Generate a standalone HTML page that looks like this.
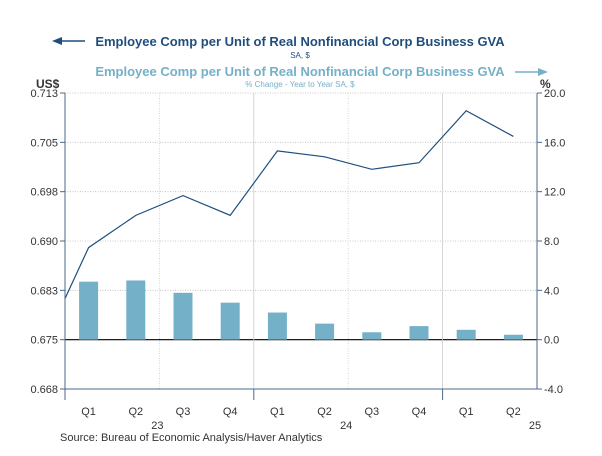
<!DOCTYPE html>
<html><head><meta charset="utf-8"><style>
body{margin:0;background:#fff;font-family:"Liberation Sans",sans-serif}
svg text{font-family:"Liberation Sans",sans-serif}
</style></head><body>
<svg width="602" height="451" viewBox="0 0 602 451">
<g>
<line x1="57" y1="41" x2="85" y2="41" stroke="#1f4e7e" stroke-width="1.5"/>
<polygon points="52,41 62,37 62,45" fill="#1f4e7e"/>
<text x="300" y="46" text-anchor="middle" font-size="13" font-weight="bold" fill="#1f4e7e">Employee Comp per Unit of Real Nonfinancial Corp Business GVA</text>
<text x="300" y="58" text-anchor="middle" font-size="8" fill="#1f4e7e">SA, $</text>
<text x="300" y="76" text-anchor="middle" font-size="13" font-weight="bold" fill="#74b0c8">Employee Comp per Unit of Real Nonfinancial Corp Business GVA</text>
<text x="300" y="87" text-anchor="middle" font-size="8" fill="#74b0c8">% Change - Year to Year    SA, $</text>
<line x1="515" y1="72" x2="540" y2="72" stroke="#74b0c8" stroke-width="1.5"/>
<polygon points="548,72 538,68 538,76" fill="#74b0c8"/>
</g>
<text x="36" y="88" font-size="12" font-weight="bold" fill="#333">US$</text>
<text x="540" y="88" font-size="12" font-weight="bold" fill="#333">%</text>
<g id="grid"></g>
<g id="bars"></g>
<g id="line"></g>
<g id="axes"></g>
<text x="60" y="441" font-size="11" fill="#333">Source:  Bureau of Economic Analysis/Haver Analytics</text>
</svg>
<script>
const categories=["Q1","Q2","Q3","Q4","Q1","Q2","Q3","Q4","Q1","Q2"];
const years=["23","24","25"];
const levelPrev=0.6735;
const levelValues=[0.6890,0.6939,0.6969,0.6939,0.7037,0.7028,0.7009,0.7019,0.7098,0.7059];
const changeValues=[4.7,4.8,3.8,3.0,2.2,1.3,0.6,1.1,0.8,0.4];
const leftTicks=["0.713","0.705","0.698","0.690","0.683","0.675","0.668"];
const rightTicks=[20,16,12,8,4,0,-4];
const NS="http://www.w3.org/2000/svg";
const X0=65,X1=537,Y0=93,Y1=389;
const slot=(X1-X0)/categories.length;
const xq=i=>X0+slot*(i+0.5);
const yR=v=>Y1-(v+4)/24*(Y1-Y0);
const yL=v=>yR((v-0.675)/0.001875);
function mk(t,a,p){const e=document.createElementNS(NS,t);for(const k in a)e.setAttribute(k,a[k]);p.appendChild(e);return e;}
const grid=document.getElementById('grid'),axes=document.getElementById('axes');
rightTicks.forEach((v,i)=>{const y=yR(v);
 const g=mk('line',{x1:X0,x2:X1,y1:y,y2:y,stroke:v===0?'#000':'#bbb','stroke-width':v===0?1.2:0.8,'stroke-dasharray':v===0?'':'1,1.5'},grid);
 
 
 mk('line',{x1:X0-5,x2:X0,y1:y,y2:y,stroke:'#4a6a8a'},axes);
 mk('line',{x1:X1,x2:X1+5,y1:y,y2:y,stroke:'#4a6a8a'},axes);
 const tl=mk('text',{x:X0-7,y:y+4,'text-anchor':'end','font-size':11,fill:'#333'},axes);tl.textContent=leftTicks[i];
 
 
 const tr=mk('text',{x:X1+7,y:y+4,'font-size':11,fill:'#333'},axes);tr.textContent=v.toFixed(1);
 
 
});
[2,4,6,8].forEach(i=>{const x=X0+slot*i;mk('line',{x1:x,x2:x,y1:Y0,y2:Y1,stroke:'#ccc','stroke-width':0.8,'stroke-dasharray':i%4===0?'':'1,1.5'},grid);});
mk('line',{x1:X0,x2:X0,y1:Y0,y2:400,stroke:'#4a6a8a'},axes);
mk('line',{x1:X1,x2:X1,y1:Y0,y2:Y1,stroke:'#4a6a8a'},axes);
mk('line',{x1:X0,x2:X1,y1:Y1,y2:Y1,stroke:'#4a6a8a'},axes);
[4,8].forEach(i=>{const x=X0+slot*i;mk('line',{x1:x,x2:x,y1:Y1,y2:400,stroke:'#4a6a8a'},axes);});
categories.forEach((c,i)=>{const t=mk('text',{x:xq(i),y:415,'text-anchor':'middle','font-size':11,fill:'#333'},axes);t.textContent=c;
 
 });
[[2,years[0]],[6,years[1]],[10,years[2]]].forEach(([i,y])=>{const t=mk('text',{x:X0+slot*i-2,y:429,'text-anchor':'middle','font-size':11,fill:'#333'},axes);t.textContent=y;
 
 });
const bars=document.getElementById('bars');
changeValues.forEach((v,i)=>{const y=yR(v),y0=yR(0);
 const b=mk('rect',{x:xq(i)-9.5,width:19,y:Math.min(y,y0),height:Math.abs(y0-y),fill:'#74b0c8'},bars);
 
 });
const pts=[[xq(-1),yL(levelPrev)]].concat(levelValues.map((v,i)=>[xq(i),yL(v)]));
mk('clipPath',{id:'cp'},document.querySelector('svg'));
mk('rect',{x:X0,y:Y0,width:X1-X0,height:Y1-Y0},document.getElementById('cp'));
const ln=mk('polyline',{points:pts.map(p=>p.join(',')).join(' '),fill:'none',stroke:'#1f4e7e','stroke-width':1.2,'clip-path':'url(#cp)'},document.getElementById('line'));


</script>
</body></html>
